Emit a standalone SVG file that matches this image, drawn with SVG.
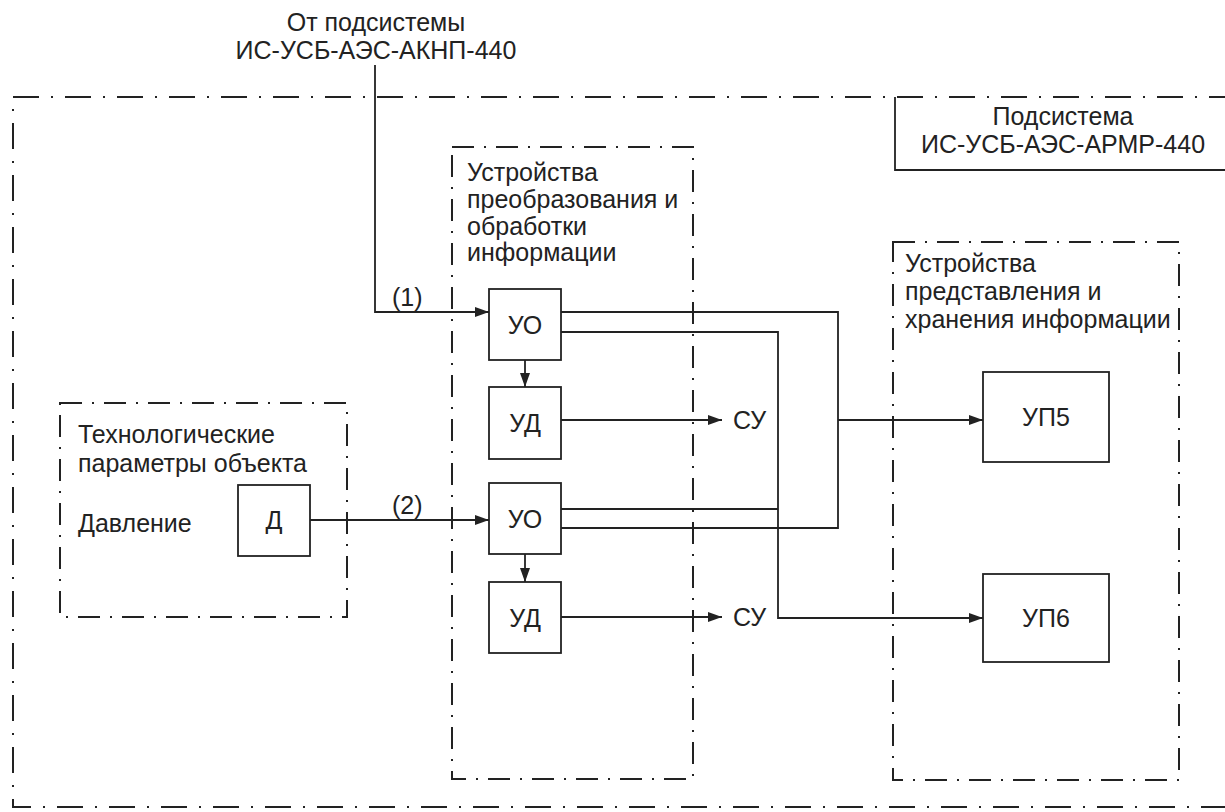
<svg xmlns="http://www.w3.org/2000/svg" width="1225" height="812" viewBox="0 0 1225 812">
<style>
text{font-family:"Liberation Sans",Arial,sans-serif;font-size:25px;fill:#222}
.box{fill:#fff;stroke:#222;stroke-width:1.8}
.ln{fill:none;stroke:#222;stroke-width:1.8}
.outer{fill:none;stroke:#222;stroke-width:2;stroke-dasharray:26 12 2 12}
.inner{fill:none;stroke:#222;stroke-width:2;stroke-dasharray:22 10 2 10}
.c{text-anchor:middle}
</style>
<defs>
<marker id="ah" viewBox="0 0 14 10" refX="14" refY="5" markerWidth="14" markerHeight="10" markerUnits="userSpaceOnUse" orient="auto">
<path d="M0,0 L14,5 L0,10 Z" fill="#222"/>
</marker>
</defs>
<rect width="1225" height="812" fill="#fff"/>
<g id="frame">
<rect class="outer" x="13" y="97" width="1240" height="710"/>
</g>
<g id="subsystem-label">
<path class="ln" d="M895,97 V170 H1225"/>
<text class="c" x="1063" y="125">Подсистема</text>
<text class="c" x="1063" y="153">ИС-УСБ-АЭС-АРМР-440</text>
</g>
<g id="source-label">
<text class="c" x="376" y="31">От подсистемы</text>
<text class="c" x="376" y="59">ИС-УСБ-АЭС-АКНП-440</text>
</g>
<g id="group-tech">
<rect class="inner" x="60" y="403" width="287" height="214"/>
<text x="78" y="443">Технологические</text>
<text x="78" y="472">параметры объекта</text>
<text x="78" y="532">Давление</text>
</g>
<g id="node-D">
<rect class="box" x="238" y="485" width="72" height="71"/>
<text class="c" x="274" y="529">Д</text>
</g>
<g id="group-proc">
<rect class="inner" x="452" y="147" width="241" height="632"/>
<text x="467" y="181">Устройства</text>
<text x="467" y="208">преобразования и</text>
<text x="467" y="235">обработки</text>
<text x="467" y="261">информации</text>
</g>
<g id="group-pres">
<rect class="inner" x="893" y="242" width="286" height="538"/>
<text x="905" y="272">Устройства</text>
<text x="905" y="300">представления и</text>
<text x="905" y="328">хранения информации</text>
</g>
<g id="node-UO1">
<rect class="box" x="489" y="289" width="72" height="71"/>
<text class="c" x="525" y="334">УО</text>
</g>
<g id="node-UD1">
<rect class="box" x="489" y="387" width="72" height="72"/>
<text class="c" x="525" y="432">УД</text>
</g>
<g id="node-UO2">
<rect class="box" x="489" y="483" width="72" height="71"/>
<text class="c" x="525" y="528">УО</text>
</g>
<g id="node-UD2">
<rect class="box" x="489" y="582" width="72" height="71"/>
<text class="c" x="525" y="627">УД</text>
</g>
<g id="node-SU1"><text x="733" y="429">СУ</text></g>
<g id="node-SU2"><text x="733" y="626">СУ</text></g>
<g id="node-UP5">
<rect class="box" x="983" y="372" width="126" height="90"/>
<text class="c" x="1046" y="426">УП5</text>
</g>
<g id="node-UP6">
<rect class="box" x="983" y="574" width="126" height="88"/>
<text class="c" x="1046" y="627">УП6</text>
</g>
<g id="connectors">
<path class="ln" d="M375,65 V312 H489" marker-end="url(#ah)"/>
<text x="392" y="306">(1)</text>
<path class="ln" d="M310,520 H489" marker-end="url(#ah)"/>
<text x="392" y="514">(2)</text>
<path class="ln" d="M525,360 V387" marker-end="url(#ah)"/>
<path class="ln" d="M525,554 V582" marker-end="url(#ah)"/>
<path class="ln" d="M561,420 H722" marker-end="url(#ah)"/>
<path class="ln" d="M561,617 H722" marker-end="url(#ah)"/>
<path class="ln" d="M561,312 H838 V528 H561"/>
<path class="ln" d="M838,420 H983" marker-end="url(#ah)"/>
<path class="ln" d="M561,332 H778 V618 H983" marker-end="url(#ah)"/>
<path class="ln" d="M561,509 H778"/>
</g>
</svg>
